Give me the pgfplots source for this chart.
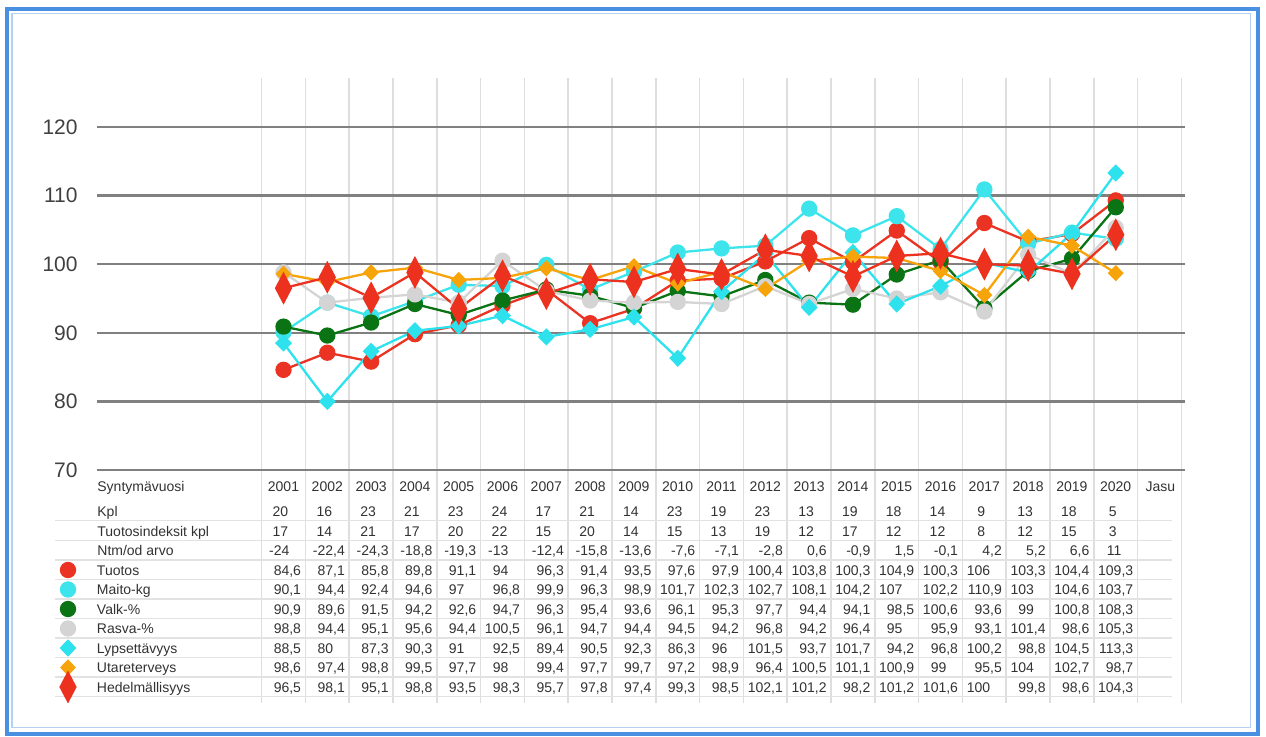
\documentclass[border=0pt]{standalone}
\usepackage{pgfplots}
\usepackage{pgfplotstable}
\pgfplotsset{compat=1.18}
\usepackage{fontspec}
\setmainfont{Liberation Sans}

\definecolor{tuotos}{RGB}{234,51,35}
\definecolor{maito}{RGB}{62,228,235}
\definecolor{valk}{RGB}{10,116,20}
\definecolor{rasva}{RGB}{212,212,212}
\definecolor{lyps}{RGB}{45,226,236}
\definecolor{utar}{RGB}{247,163,10}
\definecolor{hedel}{RGB}{236,50,30}
\definecolor{majgrid}{RGB}{128,128,128}
\definecolor{mingrid}{RGB}{222,222,222}
\definecolor{rowline}{RGB}{226,226,226}
\definecolor{frameblue}{RGB}{74,144,226}
\definecolor{framelight}{RGB}{180,208,242}
\definecolor{txt}{RGB}{50,50,50}
\definecolor{ticktxt}{RGB}{64,64,64}

\newcommand\tabfont{\fontsize{7}{8.4}\selectfont}
\newcommand\tickfont{\fontsize{10.5}{12}\selectfont}

% Jalostusindeksit syntymävuosittain
\pgfplotstableread{
year kpl tind ntm   tuotos maito valk  rasva lyps  utar  hedel
2001 20  17   -24   84.6   90.1  90.9  98.8  88.5  98.6  96.5
2002 16  14   -22.4 87.1   94.4  89.6  94.4  80    97.4  98.1
2003 23  21   -24.3 85.8   92.4  91.5  95.1  87.3  98.8  95.1
2004 21  17   -18.8 89.8   94.6  94.2  95.6  90.3  99.5  98.8
2005 23  20   -19.3 91.1   97    92.6  94.4  91    97.7  93.5
2006 24  22   -13   94     96.8  94.7  100.5 92.5  98    98.3
2007 17  15   -12.4 96.3   99.9  96.3  96.1  89.4  99.4  95.7
2008 21  20   -15.8 91.4   96.3  95.4  94.7  90.5  97.7  97.8
2009 14  14   -13.6 93.5   98.9  93.6  94.4  92.3  99.7  97.4
2010 23  15   -7.6  97.6   101.7 96.1  94.5  86.3  97.2  99.3
2011 19  13   -7.1  97.9   102.3 95.3  94.2  96    98.9  98.5
2012 23  19   -2.8  100.4  102.7 97.7  96.8  101.5 96.4  102.1
2013 13  12   0.6   103.8  108.1 94.4  94.2  93.7  100.5 101.2
2014 19  17   -0.9  100.3  104.2 94.1  96.4  101.7 101.1 98.2
2015 18  12   1.5   104.9  107   98.5  95    94.2  100.9 101.2
2016 14  12   -0.1  100.3  102.2 100.6 95.9  96.8  99    101.6
2017 9   8    4.2   106    110.9 93.6  93.1  100.2 95.5  100
2018 13  12   5.2   103.3  103   99    101.4 98.8  104   99.8
2019 18  15   6.6   104.4  104.6 100.8 98.6  104.5 102.7 98.6
2020 5   3    11    109.3  103.7 108.3 105.3 113.3 98.7  104.3
}\datatable

\begin{document}
\begin{tikzpicture}
% column separators and row rules of the chart and the table (pixel-based layout)
\begin{scope}[x=0.5pt,y=-0.5pt,yshift=368pt]
  \foreach \k in {0,...,21}
    \draw[mingrid, line width=0.8pt] ({261.6+\k*43.8},78) -- ({261.6+\k*43.8},703);
  \foreach \yy in {520.5,540.5,560,579.5,599,618.5,638,657.5,677,696.5}
    \draw[rowline, line width=0.6pt] (55,\yy) -- (1172,\yy);
\end{scope}

\begin{axis}[
  at={(48.5pt,133pt)}, anchor=south west,
  scale only axis, width=544pt, height=196pt,
  xmin=-3.258, xmax=21.58, ymin=70, ymax=127.14,
  clip=false,
  axis line style={draw=none},
  xtick=\empty,
  ytick={70,80,...,120},
  ymajorgrids,
  major grid style={majgrid, line width=1.25pt},
  major tick length=0pt,
  /pgf/number format/assume math mode=true,
  yticklabel style={font=\tickfont, text=ticktxt, anchor=east, inner sep=0pt, xshift=-9.5pt},
  legend cell align=left,
  legend style={at={(-0.04504,-0.23214)}, anchor=north west, draw=none, fill=none,
    inner sep=0pt, outer sep=0pt, row sep=0pt, column sep=4.5pt,
    font=\tabfont, text=txt,
    nodes={inner sep=0pt, text height=7pt, text depth=2.75pt}},
  legend image code/.code={%
    \begin{pgfinterruptboundingbox}
      \draw[#1, only marks] plot coordinates {(0pt,0.375pt)};
    \end{pgfinterruptboundingbox}
    \path[draw=none, fill=none, line width=0pt] (-10pt,-4.875pt) rectangle (10pt,4.875pt);
  },
  every axis plot/.append style={line width=1.15pt},
]
\addplot[tuotos, mark=*, mark size=3.5pt, mark options={solid, fill=tuotos, draw=tuotos}]
  table[x expr=\thisrow{year}-2000, y=tuotos]{\datatable};
\addlegendentry{Tuotos}
\addplot[maito, mark=*, mark size=3.5pt, mark options={solid, fill=maito, draw=maito}]
  table[x expr=\thisrow{year}-2000, y=maito]{\datatable};
\addlegendentry{Maito-kg}
\addplot[valk, mark=*, mark size=3.5pt, mark options={solid, fill=valk, draw=valk}]
  table[x expr=\thisrow{year}-2000, y=valk]{\datatable};
\addlegendentry{Valk-\%}
\addplot[rasva, mark=*, mark size=3.5pt, mark options={solid, fill=rasva, draw=rasva}]
  table[x expr=\thisrow{year}-2000, y=rasva]{\datatable};
\addlegendentry{Rasva-\%}
\addplot[lyps, mark=diamond*, mark size=3.5pt, mark options={solid, fill=lyps, draw=lyps, xscale=1.3}]
  table[x expr=\thisrow{year}-2000, y=lyps]{\datatable};
\addlegendentry{Lypsettävyys}
\addplot[utar, mark=diamond*, mark size=3.25pt, mark options={solid, fill=utar, draw=utar, xscale=1.3}]
  table[x expr=\thisrow{year}-2000, y=utar]{\datatable};
\addlegendentry{Utareterveys}
\addplot[hedel, mark=diamond*, mark size=7pt, mark options={solid, fill=hedel, draw=hedel, xscale=0.7}]
  table[x expr=\thisrow{year}-2000, y=hedel]{\datatable};
\addlegendentry{Hedelmällisyys}
\end{axis}

% data table under the chart
\begin{scope}[x=0.5pt,y=-0.5pt,yshift=368pt,
    every node/.style={font=\tabfont, text=txt, inner sep=0pt}]
  \node[anchor=base west] at (97,491) {Syntymävuosi};
  \node[anchor=base west] at (97,516) {Kpl};
  \node[anchor=base west] at (97,536) {Tuotosindeksit kpl};
  \node[anchor=base west] at (97,555.5) {Ntm/od arvo};
  \node[anchor=base] at (1160.3,491) {Jasu};
  \foreach \r in {0,...,19} {
    \pgfmathsetmacro\cx{283.5+\r*43.8}
    \pgfmathsetmacro\cr{\cx+21.9-4}
    \pgfplotstablegetelem{\r}{year}\of\datatable
    \node[anchor=base] at (\cx,491) {\pgfplotsretval};
    \pgfplotstablegetelem{\r}{kpl}\of\datatable
    \node[anchor=base] at (\cx-3,516) {\pgfplotsretval};
    \pgfplotstablegetelem{\r}{tind}\of\datatable
    \node[anchor=base] at (\cx-3,536) {\pgfplotsretval};
    \foreach \c/\yy in {ntm/555.5,tuotos/575,maito/594.5,valk/614,rasva/633.5,lyps/653,utar/672.5,hedel/692} {
      \edef\getit{\noexpand\pgfplotstablegetelem{\r}{\c}\noexpand\of\noexpand\datatable}\getit
      \let\v\pgfplotsretval
      \pgfmathtruncatemacro\isint{abs(\v-round(\v))<0.01 ? 1 : 0}
      \node[anchor=base east] at (\cr,\yy)
        {\pgfmathprintnumber[fixed, precision=1, use comma, assume math mode=true]{\v}\ifnum\isint=1 \phantom{,0}\fi};
    }
  }
  % frame
  \draw[frameblue, line width=2pt] (7,9) rectangle (1257.5,734);
  \draw[framelight, line width=0.8pt] (12,13.5) rectangle (1250.5,727.5);
\end{scope}

\pgfresetboundingbox
\path[use as bounding box] (0,0) rectangle (633pt,368pt);
\end{tikzpicture}
\end{document}
